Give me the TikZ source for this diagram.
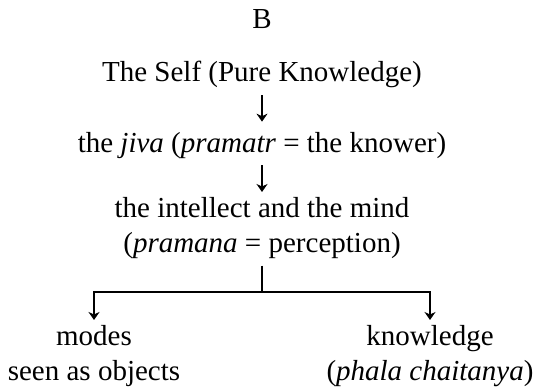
\documentclass[tikz,border=0pt]{standalone}
\usepackage{fontspec}
\setmainfont{Liberation Serif}
\usepackage{tikz}
\usetikzlibrary{positioning,arrows.meta}
\tikzstyle{term}=[inner sep=0pt, anchor=base, align=center,
        font=\fontsize{29}{35}\selectfont]
\tikzstyle{link}=[draw=black, line width=1.4pt]
\tikzstyle{flow}=[link, -{Stealth[length=8pt, width=11pt, inset=2.5pt]}]

\begin{document}
\begin{tikzpicture}[x=1pt, y=-1pt]
        \useasboundingbox (0,0) rectangle (537,387);
        \node (title) [term] at (262,29) {B};
        \node (self) [term] at (262,82) {The Self (Pure Knowledge)};
        \node (jiva) [term] at (262,153) {the \textit{jiva} (\textit{pramatr} = the knower)};
        \node (mind) [term, anchor=north] at (262,197)
        {
          the intellect and the mind\\
          (\textit{pramana} = perception)
        };
        \node (modes) [term, anchor=north] at (94,325)
        {
          modes\\seen as objects
        };
        \node (fruit) [term, anchor=north] at (430,325)
        {
          knowledge\\(\textit{phala chaitanya})
        };
        \coordinate (split) at (mind.south |- 0,292);

        % arrows down the chain
        \draw[flow, line width=1.2pt, shorten <=7pt, shorten >=11pt] (self) -- (jiva);
        \draw[flow, line width=1.2pt, shorten <=6pt, shorten >=5pt] (jiva) -- (mind);
        \draw[link, line width=1.6pt, shorten <=7pt] (mind) -- (split);
        \draw[flow, line width=1.6pt, shorten >=5pt] (split) -| (modes);
        \draw[flow, line width=1.6pt, shorten >=5pt] (split) -| (fruit);
      \end{tikzpicture}
\end{document}
